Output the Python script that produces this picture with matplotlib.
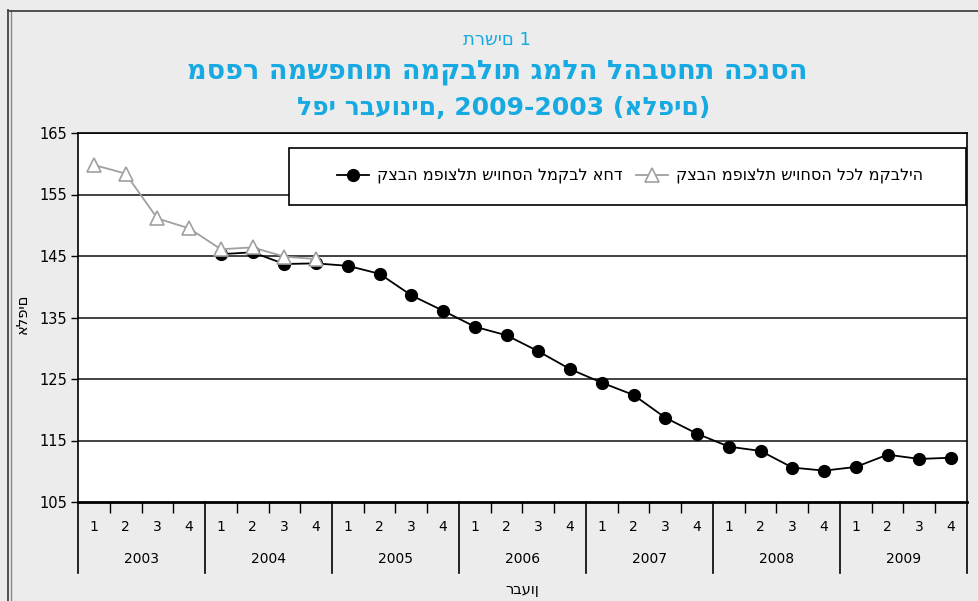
"""
plot.py - 每季度领取收入保障金的家庭数量（以千计）
"""

import matplotlib
matplotlib.use("Agg")
import matplotlib.pyplot as plt
from matplotlib.lines import Line2D
from matplotlib.patches import Rectangle

plt.rcParams["font.family"] = ["DejaVu Sans"]

# --- 数据 ---
years = ["2003", "2004", "2005", "2006", "2007", "2008", "2009"]
quarters = ["1", "2", "3", "4"]

# 分割津贴归属于所有领取人（2003Q1 - 2004Q4）
split_all = [159.8, 158.4, 151.1, 149.5, 146.1, 146.4, 144.9, 144.5]
# 分割津贴归属于一名领取人（2004Q1 - 2009Q4）
split_one = [145.3, 145.6, 143.7, 143.8,
             143.4, 142.1, 138.6, 136.1,
             133.5, 132.1, 129.5, 126.6,
             124.4, 122.4, 118.7, 116.1,
             114.0, 113.3, 110.6, 110.1,
             110.7, 112.7, 112.0, 112.2]

yticks = [105, 115, 125, 135, 145, 155, 165]

label_all = "קצבה מפוצלת שיוחסה לכל מקבליה"
label_one = "קצבה מפוצלת שיוחסה למקבל אחד"
fig_no = "תרשים 1"
title_1 = "מספר המשפחות המקבלות גמלה להבטחת הכנסה"
title_2 = "לפי רבעונים, 2009-2003 (אלפים)"
ylabel = "אלפים"
xlabel = "רבעון"

BG = "#ececec"
TITLE_C = "#17a9e1"

n_q = len(years) * len(quarters)
x_all = list(range(len(split_all)))
x_one = list(range(n_q - len(split_one), n_q))

fig = plt.figure(figsize=(9.79, 6.01), dpi=100, facecolor=BG)
ax = fig.add_axes([78 / 979, 99 / 601, 889 / 979, 369 / 601])
ax.set_facecolor("white")

# 网格线
for v in yticks[1:]:
    ax.axhline(v, color="#222222", lw=1.2, zorder=1)

l_one, = ax.plot(x_one, split_one, color="black", lw=1.3, marker="o", ms=8.5,
                 mfc="black", mec="black", zorder=3)
l_all, = ax.plot(x_all, split_all, color="#a0a0a0", lw=1.3, marker="^", ms=9.5,
                 mfc="white", mec="#a0a0a0", mew=1.2, zorder=4)

ax.set_xlim(-0.5, n_q - 0.5)
ax.set_ylim(105, 165)
ax.set_yticks(yticks)
ax.set_yticklabels([str(v) for v in yticks], fontsize=10.5)
ax.tick_params(axis="y", length=5, width=1, pad=3)

# x 轴：季度间短刻度，年份间长分隔线
minor = [i + 0.5 for i in range(n_q - 1) if (i + 1) % 4 != 0]
ax.set_xticks(minor)
ax.set_xticklabels([])
ax.tick_params(axis="x", length=8, width=1, direction="out")

for s in ["left", "right", "bottom", "top"]:
    ax.spines[s].set_color("black")
ax.spines["bottom"].set_linewidth(2)
ax.spines["left"].set_linewidth(1.2)
ax.spines["right"].set_linewidth(1.2)
ax.spines["top"].set_linewidth(1.2)

tr = ax.get_xaxis_transform()
for k in range(len(years) + 1):
    xb = k * 4 - 0.5
    ax.plot([xb, xb], [0, -0.192], transform=tr, color="black", lw=1.2, clip_on=False)
for k, yr in enumerate(years):
    for j, q in enumerate(quarters):
        ax.text(k * 4 + j, -0.068, q, transform=tr, ha="center", va="center", fontsize=10)
    ax.text(k * 4 + 1.5, -0.154, yr, transform=tr, ha="center", va="center", fontsize=10)

ax.text(0.5, -0.238, xlabel, transform=ax.transAxes, ha="center", va="center", fontsize=10.5)
ax.text(-0.063, 0.51, ylabel, transform=ax.transAxes, ha="center", va="center",
        rotation=90, fontsize=10.5)

# 图例框：左 289px，右 966px，顶 148px，底 205px
ax.add_patch(Rectangle((0.2373, 0.805), 0.7616, 0.1545, transform=ax.transAxes,
                       facecolor="white", edgecolor="black", lw=1.2, zorder=5,
                       clip_on=False))
leg = ax.legend([l_one, l_all], [label_one, label_all], ncol=2, loc="center",
                bbox_to_anchor=(0.621, 0.8835), frameon=False, fontsize=11.5,
                handlelength=2.0, handletextpad=0.5, columnspacing=0.9,
                borderpad=0, borderaxespad=0)
leg.set_zorder(6)

# 标题
fig.text(497 / 979, 1 - 40 / 601, fig_no, ha="center", va="center", color=TITLE_C, fontsize=13)
fig.text(497 / 979, 1 - 72 / 601, title_1, ha="center", va="center", color=TITLE_C,
         fontsize=19.5, fontweight="bold")
fig.text(504 / 979, 1 - 108 / 601, title_2, ha="center", va="center", color=TITLE_C,
         fontsize=18, fontweight="bold")

# 外框
fig.add_artist(Line2D([8 / 979, 8 / 979], [0, 1 - 10 / 601], transform=fig.transFigure,
                      color="#444444", lw=1.3))
fig.add_artist(Line2D([10.5 / 979, 10.5 / 979], [0, 1 - 10 / 601], transform=fig.transFigure,
                      color="#888888", lw=1))
fig.add_artist(Line2D([8 / 979, 1], [1 - 10.5 / 601, 1 - 10.5 / 601], transform=fig.transFigure,
                      color="#444444", lw=1.3))

fig.savefig("out.png", dpi=100, facecolor=BG)
